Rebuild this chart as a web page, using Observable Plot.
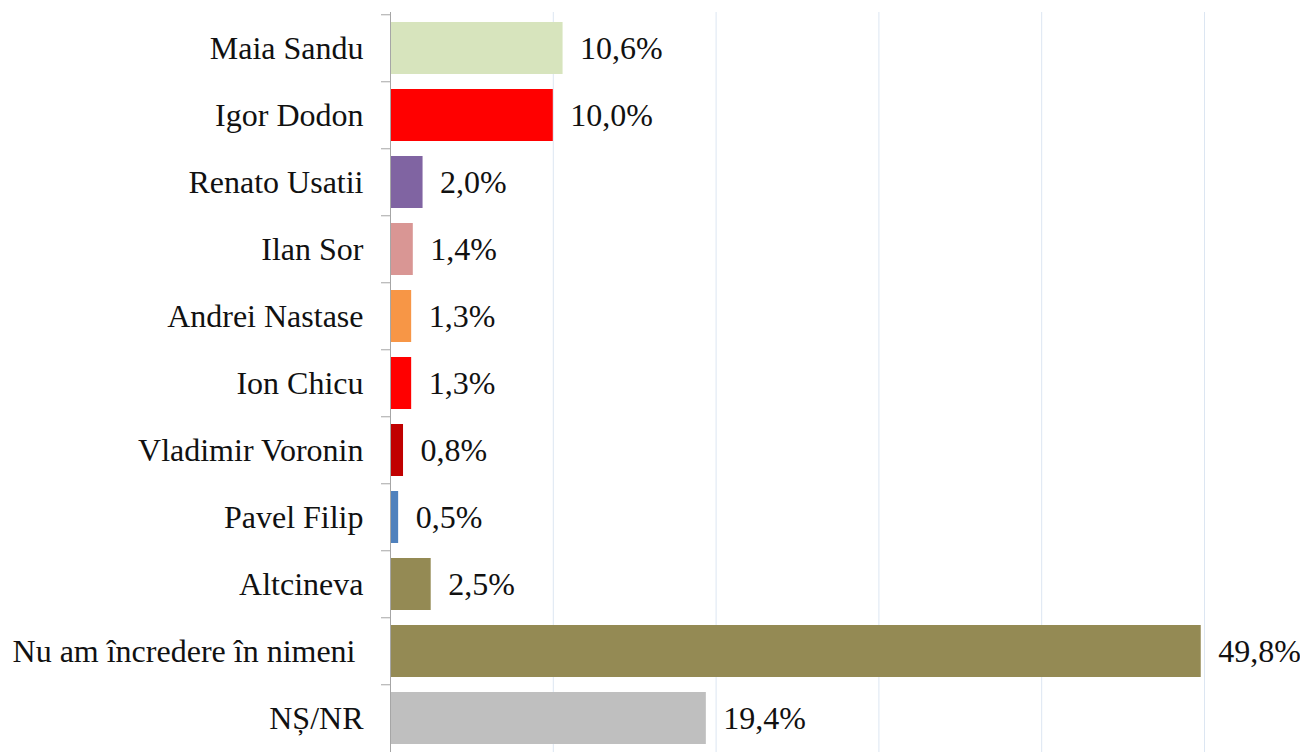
<!DOCTYPE html>
<html>
<head>
<meta charset="utf-8">
<script src="https://cdn.jsdelivr.net/npm/d3@7"></script>
<script src="https://cdn.jsdelivr.net/npm/@observablehq/plot@0.6"></script>
<style>
  html, body { margin: 0; padding: 0; background: #fff; }
  #chart svg { display: block; }
</style>
</head>
<body>
<div id="chart"></div>
<script>
const candidates = ["Maia Sandu", "Igor Dodon", "Renato Usatii", "Ilan Sor", "Andrei Nastase", "Ion Chicu", "Vladimir Voronin", "Pavel Filip", "Altcineva", "Nu am încredere în nimeni\u00a0", "NȘ/NR"];
const values = [10.6, 10.0, 2.0, 1.4, 1.3, 1.3, 0.8, 0.5, 2.5, 49.8, 19.4];
const colors = ["#d7e4bd", "#ff0000", "#8064a2", "#d99694", "#f79646", "#ff0000", "#c00000", "#4f81bd", "#948a54", "#948a54", "#bfbfbf"];
const gridTicks = [10, 20, 30, 40, 50];

const data = candidates.map((name, i) => ({
  name, value: values[i], color: colors[i],
  label: values[i].toFixed(1).replace(".", ",") + "%"
}));

const yRange = [12, 754];
const step = (yRange[1] - yRange[0]) / candidates.length;

const chart = Plot.plot({
  width: 1300,
  height: 752,
  marginLeft: 390,
  marginRight: 96,
  marginTop: 12,
  marginBottom: 0,
  style: { fontFamily: "'Liberation Serif', 'Times New Roman', serif", background: "#fff" },
  x: { domain: [0, 50], axis: null },
  y: { domain: candidates, range: yRange, paddingInner: 0.23, paddingOuter: 0.115, axis: null, label: null },
  color: { type: "identity" },
  marks: [
    Plot.ruleX(gridTicks, { stroke: "#dce6f2", strokeWidth: 1 }),
    Plot.barX(data, { x: "value", y: "name", fill: "color" }),
    Plot.ruleX([0], { stroke: "#a6a6a6", strokeWidth: 1 }),
    Plot.axisY({ tickSize: 9, text: null, label: null, stroke: "#a6a6a6", dy: -step / 2, anchor: "left" }),
    Plot.text(data, { x: 0, y: "name", text: "name", textAnchor: "end", dx: -27, fontSize: 32, fill: "#111" }),
    Plot.text(data, { x: "value", y: "name", text: "label", textAnchor: "start", dx: 17, fontSize: 32, fill: "#111" })
  ]
});
document.getElementById("chart").appendChild(chart);
</script>
</body>
</html>
